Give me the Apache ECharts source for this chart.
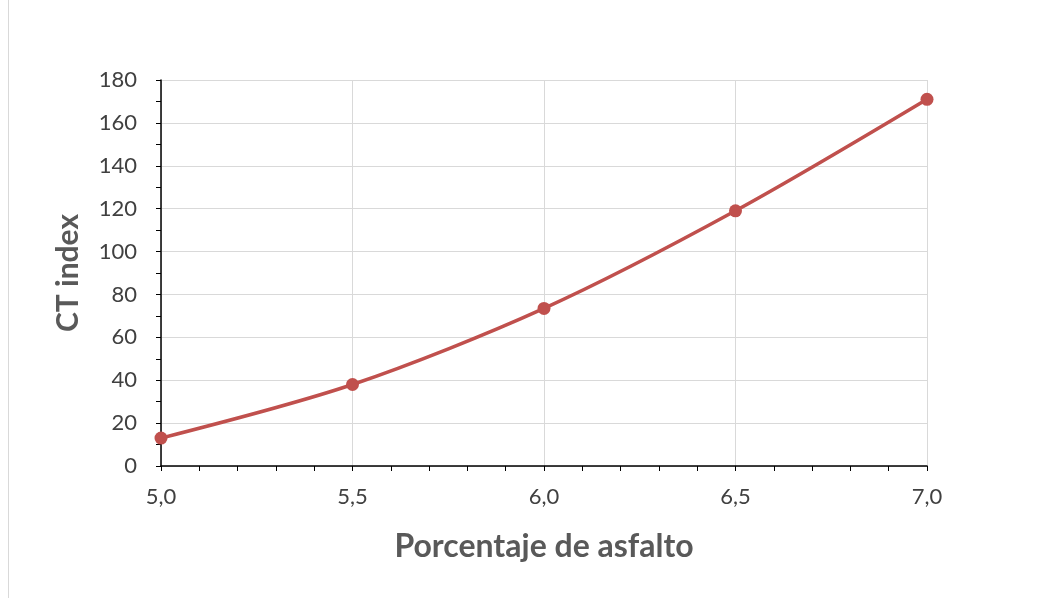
<!DOCTYPE html>
<html>
<head>
<meta charset="utf-8">
<script src="https://cdn.jsdelivr.net/npm/echarts@6/dist/echarts.min.js"></script>
<style>html,body{margin:0;padding:0;background:#fff;}#c{width:1043px;height:598px;}</style>
</head>
<body>
<div id="c"></div>
<script>
const asphaltPct = [5.0, 5.5, 6.0, 6.5, 7.0];
const ctIndex = [13, 38, 73.5, 119, 171];
const xTitle = 'Porcentaje de asfalto';
const yTitle = 'CT index';

const chart = echarts.init(document.getElementById('c'), null, {renderer: 'canvas'});
const font = 'Lato, "Open Sans", sans-serif';
chart.setOption({
  animation: false,
  backgroundColor: '#fff',
  graphic: [{type: 'line', shape: {x1: 8.5, y1: 0, x2: 8.5, y2: 598}, style: {stroke: '#d9d9d9', lineWidth: 1}}],
  grid: {left: 161, right: 116, top: 80, bottom: 132},
  xAxis: {
    type: 'value', min: 5, max: 7, interval: 0.5,
    name: xTitle, nameLocation: 'middle', nameGap: 65,
    nameTextStyle: {fontFamily: font, fontSize: 32, fontWeight: 'bold', color: '#595959'},
    axisLine: {show: true, lineStyle: {color: '#000', width: 1.5}},
    axisTick: {show: true, length: 5, lineStyle: {color: '#000'}},
    minorTick: {show: true, splitNumber: 5, length: 5, lineStyle: {color: '#000'}},
    axisLabel: {margin: 20, fontFamily: font, fontSize: 22, color: '#404040', formatter: v => v.toFixed(1).replace('.', ',')},
    splitLine: {show: true, lineStyle: {color: '#d9d9d9'}}
  },
  yAxis: {
    type: 'value', min: 0, max: 180, interval: 20,
    name: yTitle, nameLocation: 'middle', nameGap: 78,
    nameTextStyle: {fontFamily: font, fontSize: 30, fontWeight: 'bold', color: '#595959'},
    axisLine: {show: true, lineStyle: {color: '#000', width: 1.5}},
    axisTick: {show: true, length: 5, lineStyle: {color: '#000'}},
    minorTick: {show: true, splitNumber: 2, length: 5, lineStyle: {color: '#000'}},
    axisLabel: {margin: 24, fontFamily: font, fontSize: 22, color: '#404040'},
    splitLine: {show: true, lineStyle: {color: '#d9d9d9'}}
  },
  series: [{
    type: 'line', smooth: 0.3,
    data: asphaltPct.map((x, i) => [x, ctIndex[i]]),
    symbol: 'circle', symbolSize: 13,
    lineStyle: {color: '#c0504d', width: 3.5},
    itemStyle: {color: '#c0504d'}
  }]
});
</script>
</body>
</html>
